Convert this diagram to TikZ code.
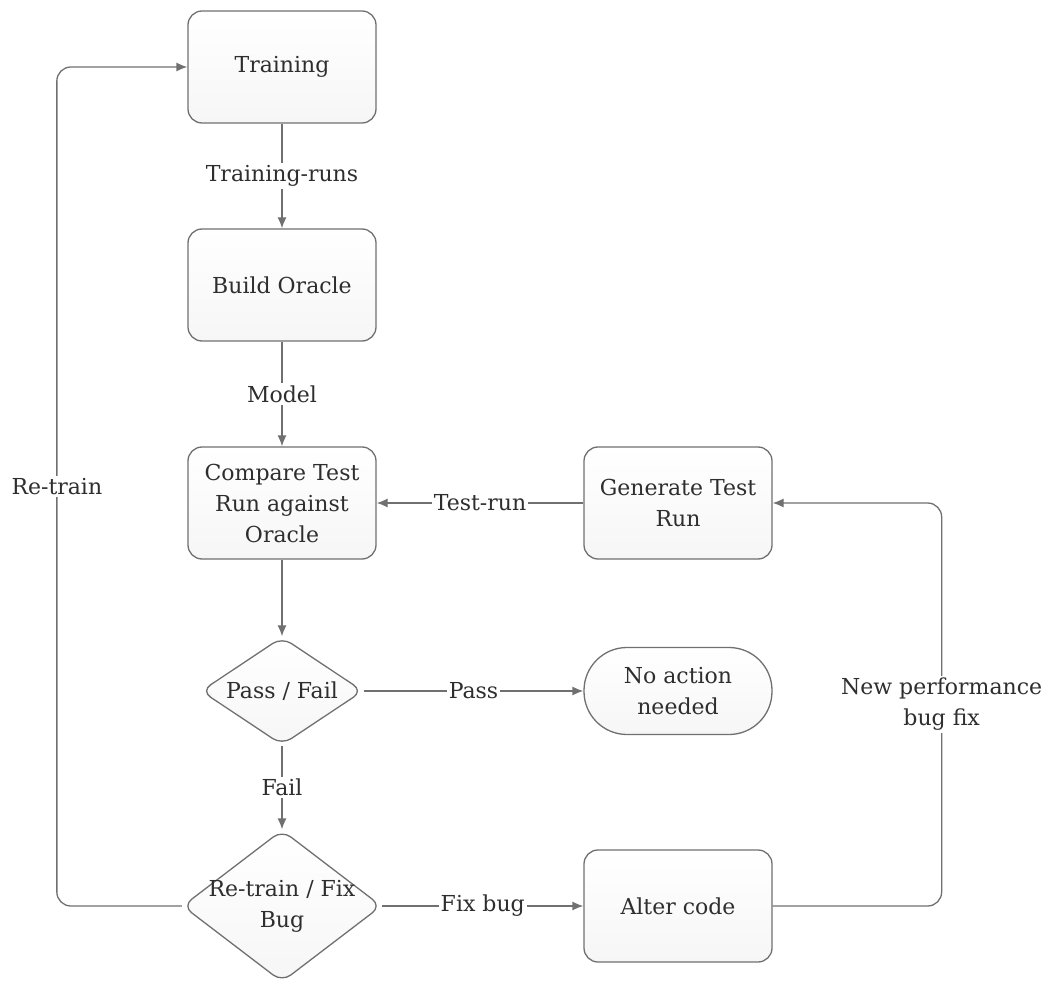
\documentclass[tikz,border=0pt]{standalone}
\usepackage{fontspec}
\setmainfont{DejaVu Serif}
\usetikzlibrary{arrows.meta,shapes.geometric}
\definecolor{linegray}{HTML}{707070}
\definecolor{textgray}{HTML}{2E2E2E}

\begin{document}
\begin{tikzpicture}[
    x = 1pt, y = -1pt, % pixel-like grid, y going down
    > = {Latex[length=11pt,width=9pt]}, % arrow head style
    line width = 1.3pt, % line style
    font = \fontsize{22}{31}\selectfont,
    text = textgray,
    box/.style={rectangle,rounded corners=14pt,draw=linegray,top color=white,bottom color=gray!7,
      minimum width=188pt,minimum height=112pt,inner sep=0pt,align=center},
    endbox/.style={box,rounded corners=43pt,minimum height=87pt},
    choice/.style={diamond,rounded corners=11pt,draw=linegray,top color=white,bottom color=gray!7,inner sep=0pt},
    conn/.style={draw=linegray,->},
    loop/.style={draw=linegray,->,rounded corners=14pt},
    lbl/.style={fill=white,inner sep=2pt,align=center}
  ]
  \useasboundingbox (0,0) rectangle (1050,981);

  % Nodes
  \node[box] (train) at (282,67) {Training};
  \node[box] (oracle) at (282,285) {Build Oracle};
  \node[box] (compare) at (282,503) {Compare Test\\Run against\\Oracle};
  \node[box] (gen) at (678,503) {Generate Test\\Run};
  \node[choice,minimum width=162pt,minimum height=108pt] (pass) at (282,691) {};
  \node (passtext) at (pass) {Pass / Fail};
  \node[endbox] (noaction) at (678,691) {No action\\needed};
  \node[choice,minimum width=199pt,minimum height=152pt] (retrain) at (282,906) {};
  \node[align=center] (retraintext) at (retrain) {Re-train / Fix\\Bug};
  \node[box] (alter) at (678,906) {Alter code};

  % Edges
  \path
    (train) edge[conn] node[lbl] {Training-runs} (oracle)
    (oracle) edge[conn] node[lbl] {Model} (compare)
    (gen) edge[conn] node[lbl] {Test-run} (compare)
    (compare) edge[conn] (pass)
    (pass) edge[conn] node[lbl] {Pass} (noaction)
    (pass) edge[conn] node[lbl] {Fail} (retrain)
    (retrain) edge[conn] node[lbl] {Fix bug} (alter);

  % Loops back
  \draw[loop] (retrain.west) -- ++(-125,0) |- node[lbl,pos=0.25] {Re-train} (train.west);
  \draw[loop] (alter.east) -- ++(169,0) |- node[lbl,pos=0.25] {New performance\\bug fix} (gen.east);
\end{tikzpicture}
\end{document}
